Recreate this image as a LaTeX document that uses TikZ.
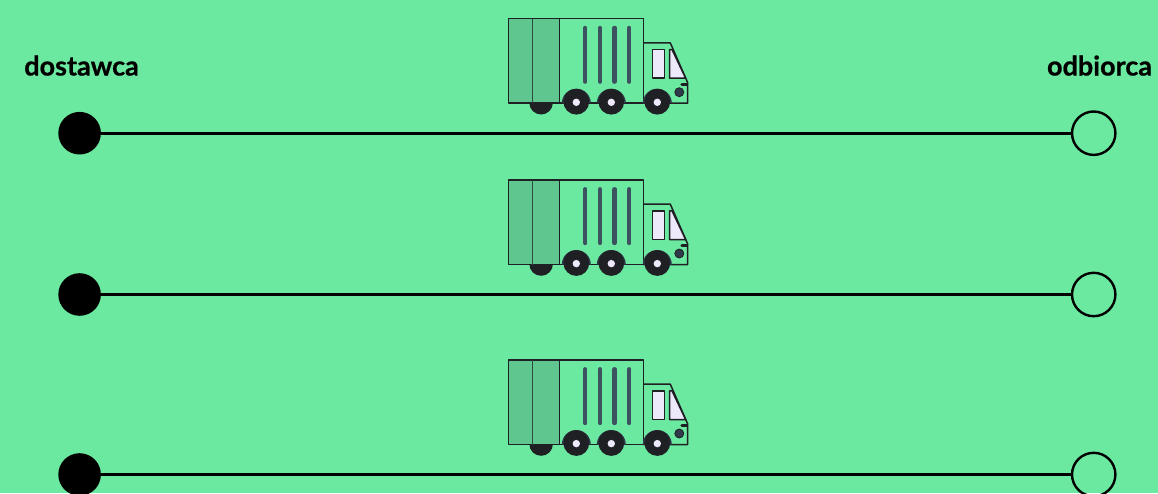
\documentclass[tikz,border=0pt]{standalone}
\usepackage{fontspec}
\setmainfont{Lato}[BoldFeatures={FakeBold=0.6}]
\definecolor{bgc}{HTML}{6CE9A0}
\definecolor{panelc}{HTML}{5FC690}
\definecolor{inkc}{HTML}{1F2024}
\definecolor{barc}{HTML}{3D5260}
\definecolor{glassc}{HTML}{EEE8FB}
\definecolor{fenderc}{HTML}{2F3A4A}
\definecolor{seamc}{HTML}{2F4A40}
\tikzset{
  x=1pt,y=-1pt,
  startdot/.style={circle,fill=black,draw=none,minimum size=42.6pt,inner sep=0pt,outer sep=0pt},
  enddot/.style={circle,draw=black,line width=2.4pt,fill=none,minimum size=43.4pt,inner sep=0pt,outer sep=0pt},
  routeline/.style={draw=black,line width=2.8pt},
  endlabel/.style={font=\fontsize{27}{30}\selectfont\bfseries,text=black,inner sep=0pt},
  truckline/.style={draw=inkc,line width=1.5pt,line join=round},
  truckbar/.style={draw=barc,line width=4.3pt,line cap=round},
  pics/truck/.style={code={
    % rear axle half wheel
    \fill[inkc] (21,84) arc[start angle=180,end angle=0,radius=11.8] -- cycle;
    % body
    \path[truckline,fill=panelc] (0,0) rectangle (51,84.5);
    \draw[seamc,line width=1.4pt] (24.4,0) -- (24.4,84.5);
    \draw[truckline] (51,0) -- (135,0) -- (135,84.5) -- (51,84.5);
    \foreach \bx in {77,91.7,106.3,121} \draw[truckbar] (\bx,9.2) -- (\bx,63);
    % cab
    \draw[truckline] (135,24.2) -- (162,24.2) -- (179.3,63.8) -- (179.3,84.5) -- (135,84.5);
    \path[truckline,fill=glassc] (144.3,30.8) rectangle (156.3,59.5);
    \path[truckline,fill=glassc] (161.3,30.8) -- (163.7,30.8) -- (177.3,59.5) -- (161.3,59.5) -- cycle;
    \draw[draw=inkc,line width=2.8pt,line cap=round] (173.5,65.8) -- (178.5,65.8);
    \fill[fenderc,draw=inkc,line width=.8pt] (171,73.5) circle[radius=4.5];
    % wheels
    \foreach \wx in {68,103,149}{
      \fill[fenderc] (\wx-14.5,84.5) arc[start angle=180,end angle=360,radius=14.5] -- cycle;
      \fill[inkc] (\wx,83) circle[radius=12.9];
      \fill[glassc] (\wx,83.6) circle[radius=3.7];
    }
  }}
}
\begin{document}
\begin{tikzpicture}
\useasboundingbox[fill=bgc] (0,0) rectangle (1158,493);
\node[endlabel,anchor=base] (dostawca) at (81.5,75.5) {dostawca};
\node[endlabel,anchor=base] (odbiorca) at (1099.5,75.5) {odbiorca};
\foreach \nm/\ly/\ty in {a/133.2/18.7,b/294.5/180,c/474.5/360}{
  \pic (truck\nm) at (508.3,\ty) {truck};
  \node[startdot] (start\nm) at (79.6,\ly) {};
  \node[enddot] (end\nm) at (1093.7,\ly) {};
  \draw[routeline] (start\nm) -- (end\nm);
}
\end{tikzpicture}
\end{document}
